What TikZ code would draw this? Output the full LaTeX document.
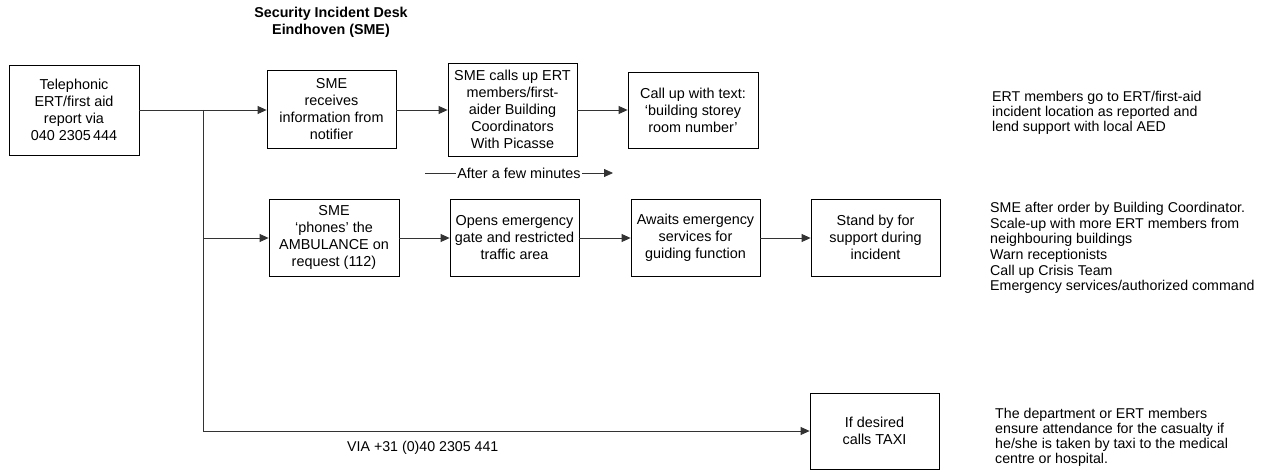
\documentclass[tikz,border=0pt]{standalone}
\usepackage{fontspec}
\setmainfont{Liberation Sans}
\usetikzlibrary{arrows.meta}
\begin{document}
\begin{tikzpicture}[x=1pt,y=-1pt,
  box/.style={draw=black,line width=0.8pt,align=center,inner sep=0pt,
    font=\fontsize{14.4}{17}\selectfont},
  conn/.style={draw=black!80,line width=0.8pt,-{Triangle[length=9pt,width=8pt]}},
  plain/.style={draw=black!80,line width=0.8pt},
  note/.style={align=left,inner sep=0pt,font=\fontsize{14.2}{15}\selectfont}]
\useasboundingbox (0,0) rectangle (1281,470);
\node[font=\bfseries\fontsize{14.3}{16.7}\selectfont,align=center] (title) at (331,22.5) {Security Incident Desk\\Eindhoven (SME)};
\node[box,minimum width=130pt,minimum height=90pt] (tel) at (74,110) {Telephonic\\ERT/first aid\\report via\\040 2305\,444};
\node[box,minimum width=129pt,minimum height=78pt] (rec) at (331.5,109) {SME\\receives\\information from\\notifier};
\node[box,minimum width=129pt,minimum height=93pt] (calls) at (512.5,109.5) {SME calls up ERT\\members/first-\\aider Building\\Coordinators\\With Picasse};
\node[box,minimum width=130pt,minimum height=76pt] (callup) at (693,110) {Call up with text:\\`building storey\\room number'};
\node[box,minimum width=130pt,minimum height=77pt] (phones) at (334,237.5) {SME\\`phones' the\\AMBULANCE on\\request (112)};
\node[box,minimum width=129pt,minimum height=77pt] (opens) at (514.5,237.5) {Opens emergency\\gate and restricted\\traffic area};
\node[box,minimum width=129pt,minimum height=77pt] (awaits) at (695.5,237.5) {Awaits emergency\\services for\\guiding function};
\node[box,minimum width=129pt,minimum height=77pt] (stand) at (875.5,237.5) {Stand by for\\support during\\incident};
\node[box,minimum width=129pt,minimum height=76pt] (taxi) at (874.5,431) {If desired\\calls TAXI};
\node[note,anchor=west] (n1) at (992,113) {ERT members go to ERT/first-aid\\incident location as reported and\\lend support with local AED};
\node[note,anchor=west,font=\fontsize{14.2}{15.7}\selectfont] (n2) at (990,248) {SME after order by Building Coordinator.\\Scale-up with more ERT members from\\neighbouring buildings\\Warn receptionists\\Call up Crisis Team\\Emergency services/authorized command};
\node[note,anchor=west] (n3) at (995,437) {The department or ERT members\\ensure attendance for the casualty if\\he/she is taken by taxi to the medical\\centre or hospital.};
\node[font=\fontsize{14.2}{17}\selectfont,anchor=west,inner sep=0pt] (via) at (347,448) {VIA +31 (0)40 2305 441};
\coordinate (j1) at (203,110);
\coordinate (j2) at (203,238);
\coordinate (j3) at (203,431);
\coordinate (m1) at (425,173);
\coordinate (m2) at (613,173);
\draw[conn] (tel.east |- j1) -- (rec.west |- j1);
\draw[plain] (j1) -- (j3);
\draw[conn] (j2) -- (phones.west |- j2);
\draw[conn] (j3) -- (taxi.west |- j3);
\draw[conn] (rec.east |- j1) -- (calls.west |- j1);
\draw[conn] (calls.east |- j1) -- (callup.west |- j1);
\draw[conn] (phones.east |- j2) -- (opens.west |- j2);
\draw[conn] (opens.east |- j2) -- (awaits.west |- j2);
\draw[conn] (awaits.east |- j2) -- (stand.west |- j2);
\draw[conn] (m1) -- node[fill=white,inner sep=1pt,font=\fontsize{14.4}{17}\selectfont] (afm) {After a few minutes} (m2);
\end{tikzpicture}
\end{document}
